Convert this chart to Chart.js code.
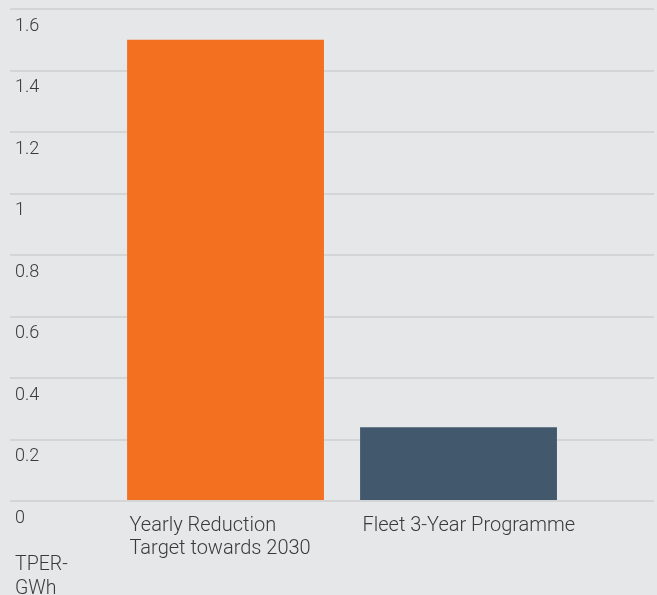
<!DOCTYPE html>
<html>
<head>
<meta charset="utf-8">
<script src="https://cdn.jsdelivr.net/npm/chart.js@4/dist/chart.umd.min.js"></script>
<style>
  html, body { margin: 0; padding: 0; background: #e6e7e9; }
  #wrap { width: 657px; height: 595px; }
</style>
</head>
<body>
<div id="wrap"><canvas id="c" width="657" height="595"></canvas></div>
<script>
const categories = [
  ['Yearly Reduction', 'Target towards 2030'],
  ['Fleet 3-Year Programme']
];
const values = [1.5, 0.24];
const barColors = ['#f37021', '#42596d'];
const yTickLabels = ['0', '0.2', '0.4', '0.6', '0.8', '1', '1.2', '1.4', '1.6'];
const yTickValues = [0, 0.2, 0.4, 0.6, 0.8, 1.0, 1.2, 1.4, 1.6];
const unitLabel = ['TPER-', 'GWh'];

const textColor = '#3a3a3a';
const fontFamily = 'Roboto, "Noto Sans", sans-serif';

const unitPlugin = {
  id: 'unitLabel',
  afterDraw(chart) {
    const ctx = chart.ctx;
    const a = chart.chartArea;
    ctx.save();
    ctx.fillStyle = textColor;
    ctx.font = '300 19.5px ' + fontFamily;
    ctx.textAlign = 'left';
    ctx.textBaseline = 'middle';
    unitLabel.forEach((t, i) => {
      ctx.fillText(t, a.left + 5, a.bottom + 64 + i * 24);
    });
    ctx.restore();
  }
};

new Chart(document.getElementById('c'), {
  type: 'bar',
  data: {
    datasets: [{
      data: values.map((v, i) => ({ x: i, y: v })),
      backgroundColor: barColors,
      borderWidth: 0,
      categoryPercentage: 1,
      barPercentage: 0.845
    }]
  },
  options: {
    responsive: false,
    devicePixelRatio: 1,
    animation: false,
    layout: { padding: { left: 10, right: 3, top: 9, bottom: 0 } },
    plugins: { legend: { display: false }, tooltip: { enabled: false }, title: { display: false } },
    scales: {
      x: {
        type: 'linear',
        offset: false,
        min: -0.925,
        max: 1.839,
        grid: { display: false, offset: false },
        border: { display: false },
        afterBuildTicks: (s) => { s.ticks = categories.map((_, i) => ({ value: i })); },
        afterFit: (s) => { s.height = 94; s.paddingLeft = 0; s.paddingRight = 0; },
        ticks: {
          align: 'start',
          labelOffset: -96,
          padding: 5,
          color: textColor,
          font: { family: fontFamily, size: 20, weight: 300, lineHeight: 23 / 20 },
          maxRotation: 0,
          minRotation: 0,
          autoSkip: false,
          callback: (value) => categories[value]
        }
      },
      y: {
        min: 0,
        max: 1.6,
        border: { display: false },
        grid: { color: '#d4d5d7', lineWidth: 2, drawTicks: false },
        afterBuildTicks: (s) => { s.ticks = yTickValues.map(v => ({ value: v })); },
        afterFit: (s) => { s.width = 0; s.paddingTop = 0; s.paddingBottom = 0; },
        ticks: {
          mirror: true,
          padding: 5,
          labelOffset: 17,
          color: textColor,
          font: { family: fontFamily, size: 18, weight: 300, lineHeight: 1 },
          callback: (value, index) => yTickLabels[index]
        }
      }
    }
  },
  plugins: [unitPlugin]
});
</script>
</body>
</html>
